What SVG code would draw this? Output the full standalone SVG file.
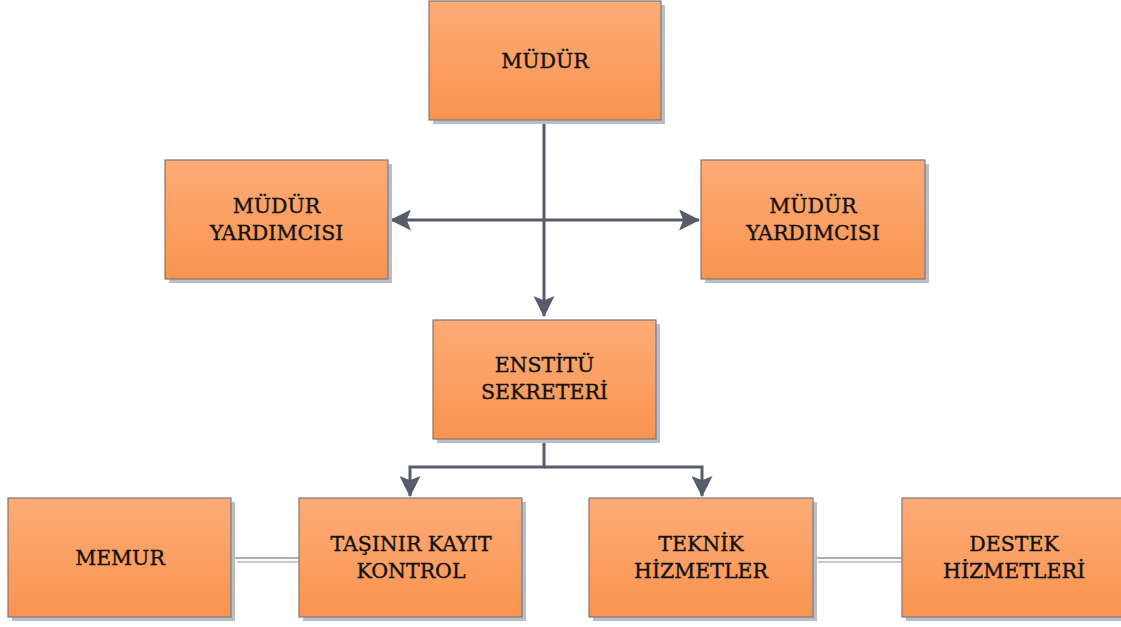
<svg xmlns="http://www.w3.org/2000/svg" width="1121" height="627" viewBox="0 0 1121 627">
<style>
.box{fill:url(#g);stroke:#7a7a7a;stroke-width:1.2}
.sh{fill:#b9bdc5}
.t{font-family:"DejaVu Serif","Liberation Serif",serif;font-size:20.5px;fill:#111;stroke:#111;stroke-width:0.35;text-anchor:middle}
.c{stroke:#565c69;stroke-width:3;fill:none}
.thin{stroke:#5a6170;stroke-width:1.2}
.thin2{stroke:#b4b8c2;stroke-width:1.5}
</style>
<defs>
<linearGradient id="g" x1="0" y1="0" x2="0" y2="1">
<stop offset="0" stop-color="#fdab77"/>
<stop offset="1" stop-color="#f9944f"/>
</linearGradient>
<marker id="a" viewBox="0 0 10 10" refX="9.5" refY="5" markerWidth="7" markerHeight="7" orient="auto" markerUnits="strokeWidth">
<path d="M0,0 L10,5 L0,10 L2,5 Z" fill="#565c69"/>
</marker>
</defs>
<g id="connectors">
<path class="c" d="M544,120 V316" marker-end="url(#a)"/>
<path class="c" d="M544,220 H391" marker-end="url(#a)"/>
<path class="c" d="M544,220 H699" marker-end="url(#a)"/>
<path class="c" d="M544,439 V467 H410 V496" marker-end="url(#a)"/>
<path class="c" d="M544,467 H702 V496" marker-end="url(#a)"/>
<line class="thin2" x1="237" y1="562" x2="303" y2="562"/>
<line class="thin" x1="232" y1="558" x2="299" y2="558"/>
<line class="thin2" x1="818" y1="562" x2="909" y2="562"/>
<line class="thin" x1="813" y1="558" x2="903" y2="558"/>
</g>
<g id="mudur">
<rect class="sh" x="433" y="5" width="232" height="119"/>
<rect class="box" x="429" y="1" width="232" height="119"/>
<text class="t" x="545" y="68">MÜDÜR</text>
</g>
<g id="yardimci-sol">
<rect class="sh" x="169" y="164" width="223" height="119"/>
<rect class="box" x="165" y="160" width="223" height="119"/>
<text class="t" x="276.5" y="213">MÜDÜR</text>
<text class="t" x="276.5" y="240">YARDIMCISI</text>
</g>
<g id="yardimci-sag">
<rect class="sh" x="705" y="164" width="224" height="119"/>
<rect class="box" x="701" y="160" width="224" height="119"/>
<text class="t" x="813" y="213">MÜDÜR</text>
<text class="t" x="813" y="240">YARDIMCISI</text>
</g>
<g id="enstitu">
<rect class="sh" x="437" y="324" width="223" height="119"/>
<rect class="box" x="433" y="320" width="223" height="119"/>
<text class="t" x="544.5" y="372">ENSTİTÜ</text>
<text class="t" x="544.5" y="399">SEKRETERİ</text>
</g>
<g id="memur">
<rect class="sh" x="12" y="502" width="223" height="119"/>
<rect class="box" x="8" y="498" width="223" height="119"/>
<text class="t" x="120" y="565">MEMUR</text>
</g>
<g id="tasinir">
<rect class="sh" x="303" y="502" width="223" height="119"/>
<rect class="box" x="299" y="498" width="223" height="119"/>
<text class="t" x="411" y="551">TAŞINIR KAYIT</text>
<text class="t" x="411" y="578">KONTROL</text>
</g>
<g id="teknik">
<rect class="sh" x="593" y="502" width="224" height="119"/>
<rect class="box" x="589" y="498" width="224" height="119"/>
<text class="t" x="701" y="551">TEKNİK</text>
<text class="t" x="701" y="578">HİZMETLER</text>
</g>
<g id="destek">
<rect class="sh" x="906" y="502" width="224" height="119"/>
<rect class="box" x="902" y="498" width="224" height="119"/>
<text class="t" x="1014" y="551">DESTEK</text>
<text class="t" x="1014" y="578">HİZMETLERİ</text>
</g>
</svg>
